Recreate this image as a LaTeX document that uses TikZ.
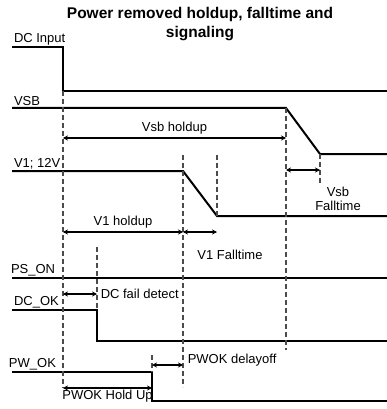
\documentclass[tikz,border=0pt]{standalone}
\usepackage{fontspec}
\setmainfont{Liberation Sans}
\usetikzlibrary{positioning,arrows.meta}

\begin{document}
\begin{tikzpicture}[x=1pt,y=-1pt,
		sig/.style={line width=2pt},
		guide/.style={line width=1.3pt, draw=black!70, dash pattern=on 5pt off 3pt},
		span/.style={line width=1.5pt, {Stealth[length=5pt,width=5pt]}-{Stealth[length=5pt,width=5pt]}},
		lbl/.style={font=\fontsize{13}{14}\selectfont, inner sep=1pt}]
		\useasboundingbox (0,0) rectangle (387,409);
		\node[lbl, font=\fontsize{15.5}{19}\selectfont\bfseries, align=center] (title) at (200,24) {Power removed holdup, falltime and\\signaling};
		
		% signals
		\draw[sig] (12,47) node[lbl, above right] (dcin) {DC Input} -- (63,47) -- (63,91) -- (387,91);
		\draw[sig] (12,108) node[lbl, above right] (vsb) {VSB} -- (286,108) -- (320,154) -- (387,154);
		\draw[sig] (12,171) node[lbl, above right] (vone) {V1; 12V} -- (183,171) -- (217,216) -- (387,216);
		\draw[sig] (12,278) node[lbl, above right, xshift=-3pt] (pson) {PS\_ON} -- (387,278);
		\draw[sig] (12,310) node[lbl, above right] (dcok) {DC\_OK} -- (97,310) -- (97,341) -- (387,341);
		\draw[sig] (12,372) node[lbl, above right, xshift=-5pt] (pwok) {PW\_OK} -- (152,372) -- (152,401) -- (387,401);
		
		% guides
		\draw[guide] (63,91) -- (63,388);
		\draw[guide] (286,108) -- (286,350);
		\draw[guide] (183,155) -- (183,387);
		\draw[guide] (217,155) -- (217,216);
		\draw[guide] (320,154) -- (320,185);
		\draw[guide] (97,247) -- (97,310);
		\draw[guide] (152,355) -- (152,372);
		
		% spans
		\coordinate (vsbA) at (63,138);  \coordinate (vsbB) at (286,138);
		\coordinate (vA) at (63,232);    \coordinate (vB) at (183,232);  \coordinate (vC) at (217,232);
		\coordinate (vfA) at (286,170);  \coordinate (vfB) at (320,170);
		\coordinate (dfA) at (63,294);   \coordinate (dfB) at (97,294);
		\coordinate (pdA) at (152,365);  \coordinate (pdB) at (183,365);
		\coordinate (phA) at (63,388);   \coordinate (phB) at (152,388);
		
		\draw[span] (vsbA) -- node[lbl, above=2pt] (vsbhold) {Vsb holdup} (vsbB);
		\draw[span] (vA) -- node[lbl, above=2pt] (vhold) {V1 holdup} (vB);
		\draw[span] (vB) -- (vC);
		\node[lbl] (vfall) at (230,255) {V1 Falltime};
		\draw[span] (vfA) -- (vfB);
		\node[lbl, align=center] (vsbfall) at (338,199) {Vsb\\Falltime};
		\draw[span] (dfA) -- (dfB) node[lbl, right=2pt] (dcfail) {DC fail detect};
		\draw[span] (pdA) -- (pdB) node[lbl, above right=-3pt and 3pt] (pwdelay) {PWOK delayoff};
		\draw[span] (phA) -- node[lbl, below=0pt] (pwhold) {PWOK Hold Up} (phB);
		
	\end{tikzpicture}
\end{document}
